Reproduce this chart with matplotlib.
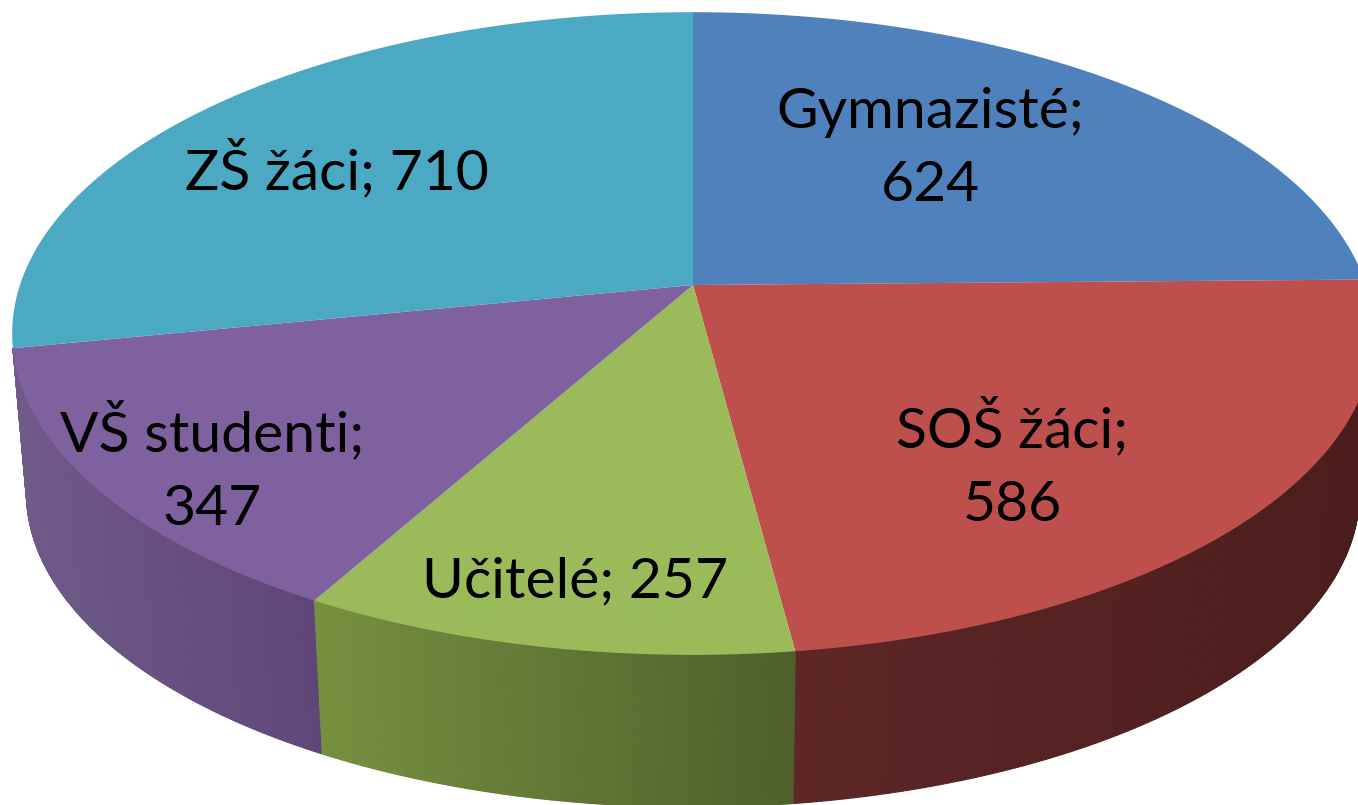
import numpy as np
import matplotlib
matplotlib.use("Agg")
import matplotlib.pyplot as plt
from matplotlib.collections import PolyCollection
from matplotlib.colors import to_rgb
from matplotlib.patches import Polygon

categories = ["Gymnazisté", "SOŠ žáci", "Učitelé", "VŠ studenti", "ZŠ žáci"]
values = [624, 586, 257, 347, 710]
colors = ["#4F81BD", "#BD4F4D", "#9BBA59", "#7F619F", "#4BA9C4"]
side_left = ["#4A1D1C", "#5E2726", "#76903F", "#6F5A8A", "#4BA9C4"]
side_right = ["#4A1D1C", "#4A1D1C", "#4E5F2B", "#5F4678", "#4BA9C4"]
label_text = ["Gymnazisté;\n624", "SOŠ žáci;\n586", "Učitelé; 257", "VŠ studenti;\n347", "ZŠ žáci; 710"]
label_pos = [(930, 149), (1012, 464), (575, 582), (212, 468), (337, 170)]

CX, CY, A, B, K = 693, 285, 673, 314, 0.151
CY2, S = 445, 0.979

def top(t):
    return CX + A*np.sin(t)/(1+K*np.cos(t)), CY - B*np.cos(t)/(1+K*np.cos(t))

def bottom(t):
    x, y = top(t)
    return CX + (x-CX)*S, CY2 + (y-CY)*S

fig = plt.figure(figsize=(13.58, 8.05), dpi=100)
ax = fig.add_axes([0, 0, 1, 1])
ax.axis("off")
ax.set_xlim(0, 1358)
ax.set_ylim(805, 0)

edges = np.radians(np.concatenate([[0], np.cumsum(values)]) / sum(values) * 360)

# side walls as narrow strips, so the outline follows the swept silhouette
for i in [1, 3, 2]:
    t = np.linspace(edges[i], edges[i+1], 240)
    ux, uy = top(t)
    lx, ly = bottom(t)
    quads = [[(ux[j], uy[j]), (ux[j+1], uy[j+1]), (lx[j+1], ly[j+1]), (lx[j], ly[j])]
             for j in range(len(t)-1)]
    mid = 0.5*(lx[:-1] + lx[1:])
    f = ((mid - mid.min()) / (mid.max() - mid.min()))[:, None]
    c = np.array(to_rgb(side_left[i]))*(1-f) + np.array(to_rgb(side_right[i]))*f
    ax.add_collection(PolyCollection(quads, facecolors=c, edgecolors=c, linewidths=0.8, zorder=1))

for i, c in enumerate(colors):
    t = np.linspace(edges[i], edges[i+1], 300)
    ux, uy = top(t)
    pts = np.column_stack([np.r_[CX, ux], np.r_[CY, uy]])
    ax.add_patch(Polygon(pts, closed=True, fc=c, ec="none", zorder=2))

for s, (x, y) in zip(label_text, label_pos):
    ax.text(x, y, s, ha="center", va="center", fontsize=41, family="Lato", color="black", zorder=3, linespacing=1.55)

fig.savefig("out.png", dpi=100)
